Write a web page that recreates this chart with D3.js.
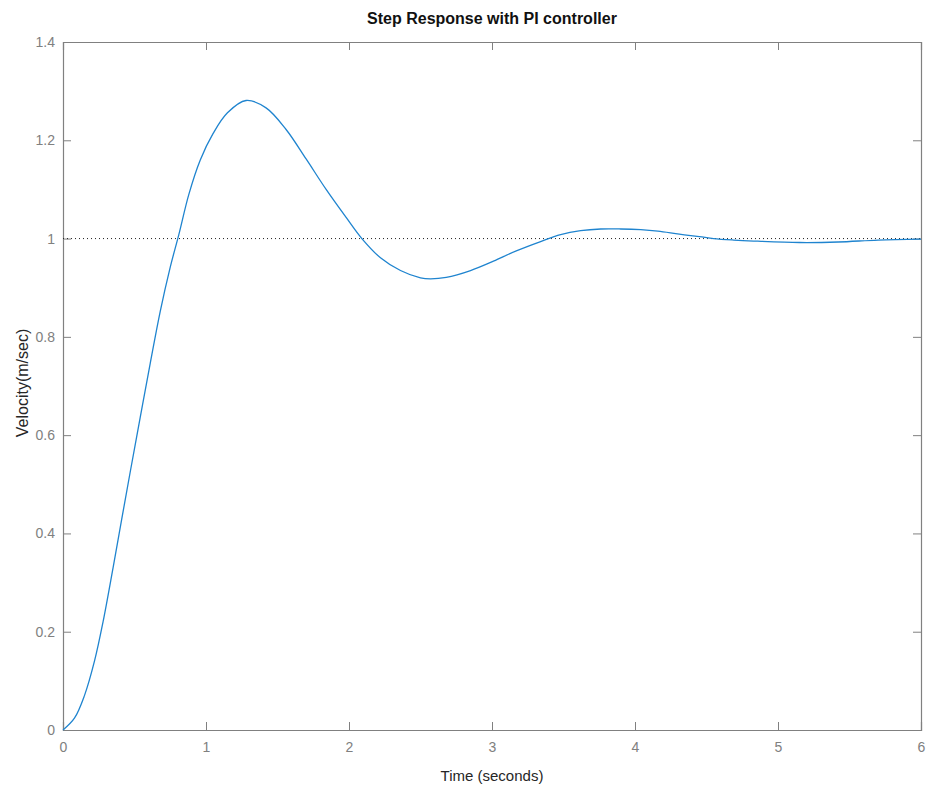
<!DOCTYPE html>
<html>
<head>
<meta charset="utf-8">
<script src="https://cdn.jsdelivr.net/npm/d3@7"></script>
<style>
  body { margin: 0; background: #fff; }
  .axis text { font-family: "Liberation Sans", Arial, sans-serif; font-size: 14px; fill: #808080; }
  .axis path, .axis line { stroke: #808080; }
</style>
</head>
<body>
<div id="chart"></div>
<script>
'use strict'

// step response
const time = [0, 0.08, 0.15, 0.22, 0.28, 0.35, 0.41, 0.47, 0.54, 0.61, 0.68, 0.75, 0.81, 0.88, 0.96,
  1.05, 1.15, 1.28, 1.42, 1.56, 1.70, 1.84, 1.98, 2.09, 2.22, 2.36, 2.50, 2.57, 2.68, 2.85,
  3.01, 3.17, 3.34, 3.48, 3.62, 3.76, 3.90, 4.04, 4.16, 4.31, 4.45, 4.55, 4.69, 4.83, 5.15,
  5.42, 5.70, 6.0]
const velocity = [0, 0.024, 0.07, 0.14, 0.22, 0.33, 0.428, 0.525, 0.636, 0.746, 0.852, 0.942, 1.008, 1.09, 1.16,
  1.214, 1.256, 1.281, 1.266, 1.222, 1.162, 1.1, 1.043, 1.0, 0.961, 0.935, 0.920, 0.918, 0.921, 0.935,
  0.954, 0.975, 0.994, 1.008, 1.016, 1.0195, 1.0195, 1.018, 1.015, 1.009, 1.004, 1.0, 0.997, 0.995, 0.992,
  0.993, 0.997, 0.999]
const xTicks = [0, 1, 2, 3, 4, 5, 6]
const yTicks = [0, 0.2, 0.4, 0.6, 0.8, 1, 1.2, 1.4]
const steadyState = 1

const width = 940
const height = 790
const margin = {top: 42, right: 19, bottom: 60, left: 63}
const innerW = width - margin.left - margin.right
const innerH = height - margin.top - margin.bottom
const tickLen = 8

const svg = d3.select('#chart').append('svg')
  .attr('width', width)
  .attr('height', height)

const g = svg.append('g')
  .attr('transform', `translate(${margin.left}, ${margin.top})`)

const x = d3.scaleLinear().domain([0, 6]).range([0, innerW])
const y = d3.scaleLinear().domain([0, 1.4]).range([innerH, 0])

// axes with inward ticks, box drawn on all four sides
g.append('g').attr('class', 'axis')
  .attr('transform', `translate(0, ${innerH})`)
  .call(d3.axisBottom(x).tickValues(xTicks).tickSize(-tickLen).tickPadding(12).tickFormat(d3.format('d')))
g.append('g').attr('class', 'axis')
  .call(d3.axisTop(x).tickValues(xTicks).tickSize(-tickLen).tickFormat(''))
g.append('g').attr('class', 'axis')
  .call(d3.axisLeft(y).tickValues(yTicks).tickSize(-tickLen).tickPadding(8).tickFormat(d => d3.format('~g')(d)))
g.append('g').attr('class', 'axis')
  .attr('transform', `translate(${innerW}, 0)`)
  .call(d3.axisRight(y).tickValues(yTicks).tickSize(-tickLen).tickFormat(''))

g.selectAll('.axis .domain').attr('stroke-width', 1.2)

// steady state reference line
g.append('line')
  .attr('x1', 0).attr('x2', innerW)
  .attr('y1', y(steadyState)).attr('y2', y(steadyState))
  .attr('stroke', '#222')
  .attr('stroke-width', 1)
  .attr('stroke-dasharray', '1,3')

const line = d3.line()
  .x((d, i) => x(time[i]))
  .y(d => y(d))
  .curve(d3.curveCatmullRom.alpha(0.5))

g.append('path')
  .datum(velocity)
  .attr('fill', 'none')
  .attr('stroke', '#1f84cf')
  .attr('stroke-width', 1.3)
  .attr('d', line)

svg.append('text')
  .attr('x', margin.left + innerW / 2)
  .attr('y', 24)
  .attr('text-anchor', 'middle')
  .style('font-family', '"Liberation Sans Narrow", "Arial Narrow", Arial, sans-serif')
  .style('font-weight', 'bold')
  .style('font-size', '16px')
  .style('fill', '#111')
  .text('Step Response with PI controller')

svg.append('text')
  .attr('x', margin.left + innerW / 2)
  .attr('y', 781)
  .attr('text-anchor', 'middle')
  .style('font-family', '"Liberation Sans", Arial, sans-serif')
  .style('font-size', '15px')
  .style('fill', '#262626')
  .text('Time (seconds)')

svg.append('text')
  .attr('transform', `translate(28, ${margin.top + innerH / 2 - 3}) rotate(-90)`)
  .attr('text-anchor', 'middle')
  .style('font-family', '"Liberation Sans", Arial, sans-serif')
  .style('font-size', '16px')
  .style('fill', '#262626')
  .text('Velocity(m/sec)')
</script>
</body>
</html>
